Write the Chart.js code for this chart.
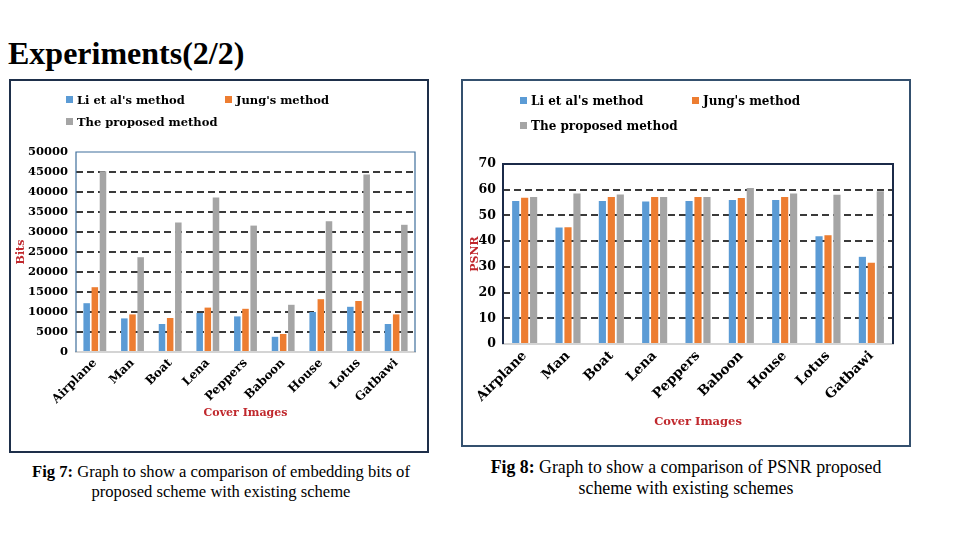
<!DOCTYPE html>
<html>
<head>
<meta charset="utf-8">
<script src="https://cdn.jsdelivr.net/npm/chart.js@4.4.1/dist/chart.umd.min.js"></script>
<style>
  body { margin: 0; width: 960px; height: 540px; background: #fff; position: relative; overflow: hidden; font-family: "Liberation Serif", serif; }
  .title { position: absolute; left: 8px; top: 37px; font-size: 32px; font-weight: bold; line-height: 1; color: #000; }
  .box { position: absolute; border: 2px solid #1e2f4a; box-sizing: border-box; }
  .wrap { position: absolute; }
  .legend { position: absolute; font-family: "DejaVu Serif", serif; font-weight: bold; white-space: nowrap; color: #000; }
  .legend span.sw { display: inline-block; width: 7px; height: 7px; margin-right: 4px; vertical-align: 1px; }
  .caption { position: absolute; text-align: center; color: #000; }
</style>
</head>
<body>
<div class="title">Experiments(2/2)</div>

<div class="box" style="left:9px;top:79px;width:420px;height:374px;"></div>
<div class="wrap" style="left:10px;top:80px;"><canvas id="bitsChart" width="418" height="372"></canvas></div>

<div class="box" style="left:461px;top:79px;width:450px;height:368px;border-color:#34506e;"></div>
<div class="wrap" style="left:462px;top:80px;"><canvas id="psnrChart" width="448" height="366"></canvas></div>

<div class="caption" style="left:10px;top:462px;width:422px;font-size:16.6px;line-height:20px;"><b>Fig 7:</b> Graph to show a comparison of embedding bits of<br>proposed scheme with existing scheme</div>
<div class="caption" style="left:476px;top:457px;width:420px;font-size:17.8px;line-height:21px;"><b>Fig 8:</b> Graph to show a comparison of PSNR proposed<br>scheme with existing schemes</div>

<script>
// подписи категорий и названия методов
const coverImages = ['Airplane', 'Man', 'Boat', 'Lena', 'Peppers', 'Baboon', 'House', 'Lotus', 'Gatbawi'];
const seriesNames = ["Li et al's method", "Jung's method", 'The proposed method'];
const seriesColors = ['#5b9bd5', '#ed7d31', '#a5a5a5'];

// Fig 7 - embedding bits
const bitsLi = [12200, 8400, 7000, 9750, 8900, 3800, 10000, 11300, 7000];
const bitsJung = [16200, 9400, 8500, 11100, 10800, 4500, 13200, 12750, 9400];
const bitsProposed = [45200, 23700, 32400, 38600, 31600, 11800, 32700, 44400, 31800];

// Fig 8 - PSNR
const psnrLi = [55.6, 45.3, 55.6, 55.4, 55.6, 56.0, 56.0, 41.9, 33.9];
const psnrJung = [56.9, 45.4, 57.2, 57.2, 57.2, 56.8, 57.2, 42.3, 31.6];
const psnrProposed = [57.2, 58.5, 58.1, 57.2, 57.2, 60.7, 58.5, 58.0, 59.4];

/*
* рамка вокруг области построения (верх, лево, право)
*/
const plotFrame = {
    id: 'plotFrame',
    afterDraw(chart, args, opts) {
        const {ctx, chartArea: a} = chart;
        ctx.save();
        ctx.strokeStyle = opts.color;
        ctx.lineWidth = opts.width;
        ctx.beginPath();
        ctx.moveTo(a.left, a.bottom);
        ctx.lineTo(a.left, a.top);
        ctx.lineTo(a.right, a.top);
        ctx.lineTo(a.right, a.bottom);
        ctx.stroke();
        ctx.restore();
    }
};

// легенда html, две строки как на картинке
function addLegend(x, y, fontSize, secondX, rowGap) {
    const spots = [[x, y], [secondX, y], [x, y + rowGap]];
    seriesNames.forEach((name, i) => {
        const el = document.createElement('div');
        el.className = 'legend';
        el.style.left = spots[i][0] + 'px';
        el.style.top = spots[i][1] + 'px';
        el.style.fontSize = fontSize + 'px';
        el.innerHTML = '<span class="sw" style="background:' + seriesColors[i] + '"></span>' + name;
        document.body.appendChild(el);
    });
}

function makeChart(canvas, values, cfg) {
    return new Chart(canvas, {
        type: 'bar',
        data: {
            labels: coverImages,
            datasets: values.map((v, i) => ({
                label: seriesNames[i],
                data: v,
                backgroundColor: seriesColors[i],
                borderWidth: 0,
                categoryPercentage: cfg.catPct,
                barPercentage: 0.8
            }))
        },
        options: {
            responsive: false,
            animation: false,
            layout: { padding: cfg.padding },
            plugins: {
                legend: { display: false },
                tooltip: { enabled: false },
                plotFrame: { color: cfg.frameColor, width: cfg.frameWidth }
            },
            scales: {
                x: {
                    afterFit: s => { s.height = cfg.xHeight; },
                    grid: { display: false, drawTicks: false },
                    border: { display: true, color: '#d4d4d4', width: 2 },
                    ticks: {
                        autoSkip: false,
                        minRotation: 45,
                        maxRotation: 45,
                        padding: 4,
                        color: '#000',
                        font: { family: 'DejaVu Serif', weight: 'bold', size: cfg.xFont }
                    },
                    title: {
                        display: true,
                        text: 'Cover Images',
                        color: '#c0282d',
                        padding: { top: 0, bottom: 5 },
                        font: { family: 'DejaVu Serif', weight: 'bold', size: cfg.titleFont }
                    }
                },
                y: {
                    min: 0,
                    max: cfg.max,
                    afterFit: s => { s.width = cfg.yWidth; },
                    grid: {
                        drawTicks: false,
                        lineWidth: 2,
                        color: c => (c.tick && (c.tick.value === 0 || c.tick.value === cfg.max)) ? 'rgba(0,0,0,0)' : '#3a3a3a'
                    },
                    border: { display: false, dash: [7, 4] },
                    ticks: {
                        stepSize: cfg.step,
                        padding: cfg.yPad,
                        color: '#000',
                        callback: v => String(v), // без запятых
                        font: { family: 'DejaVu Serif', weight: 'bold', size: cfg.yFont }
                    },
                    title: {
                        display: true,
                        text: cfg.yTitle,
                        color: '#c0282d',
                        padding: { top: cfg.yTitlePad, bottom: 0 },
                        font: { family: 'DejaVu Serif', weight: 'bold', size: cfg.yTitleFont }
                    }
                }
            }
        },
        plugins: [plotFrame]
    });
}

document.addEventListener('DOMContentLoaded', () => {
    addLegend(66, 93, 11.5, 225, 22);
    addLegend(520, 94, 12, 692, 25);

    makeChart(document.getElementById('bitsChart'), [bitsLi, bitsJung, bitsProposed], {
        padding: { top: 72, right: 13, left: 0, bottom: 27 },
        xHeight: 73, yWidth: 66,
        max: 50000, step: 5000,
        catPct: 0.65,
        xFont: 12, yFont: 11.5, yPad: 8,
        titleFont: 11, yTitle: 'Bits', yTitleFont: 11, yTitlePad: 5,
        frameColor: '#3f6f9c', frameWidth: 1.2
    });

    makeChart(document.getElementById('psnrChart'), [psnrLi, psnrJung, psnrProposed], {
        padding: { top: 84, right: 17, left: 0, bottom: 12 },
        xHeight: 90, yWidth: 41,
        max: 70, step: 10,
        catPct: 0.62,
        xFont: 13.5, yFont: 12.5, yPad: 7,
        titleFont: 11.5, yTitle: 'PSNR', yTitleFont: 11, yTitlePad: 7,
        frameColor: '#1b2a48', frameWidth: 2
    });
});
</script>
</body>
</html>
